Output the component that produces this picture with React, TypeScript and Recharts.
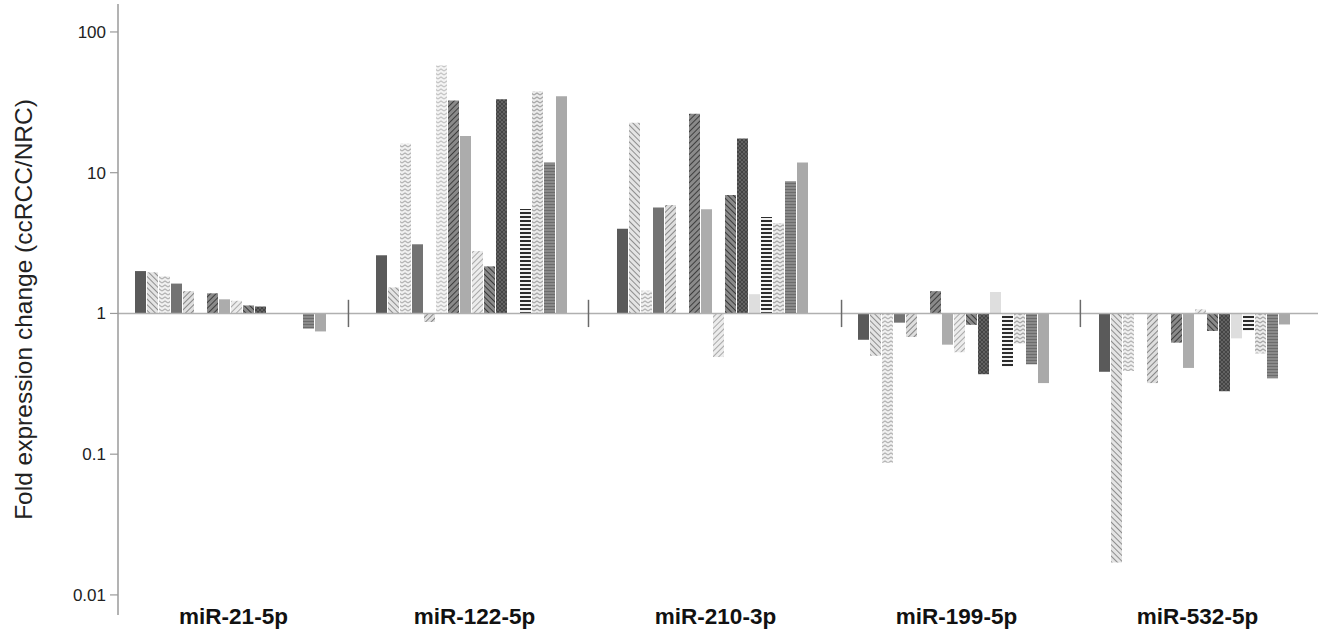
import React from 'react';
import { BarChart, Bar, XAxis, YAxis, ReferenceLine } from 'recharts';

// ---- data ----
const CATEGORIES = ['miR-21-5p', 'miR-122-5p', 'miR-210-3p', 'miR-199-5p', 'miR-532-5p'];
const MIR21 = [2.0, 1.96, 1.84, 1.63, 1.44, 1.0, 1.39, 1.26, 1.23, 1.14, 1.12, 1.0, 1.0, 1.0, 0.78, 0.745];
const MIR122 = [2.59, 1.53, 16.1, 3.1, 0.87, 57.7, 32.6, 18.2, 2.78, 2.16, 33.3, 1.0, 5.52, 37.9, 11.8, 34.9];
const MIR210 = [4.0, 22.6, 1.45, 5.65, 5.9, 1.0, 26.2, 5.5, 0.49, 6.95, 17.5, 1.37, 4.85, 4.4, 8.7, 11.8];
const MIR199 = [0.65, 0.5, 0.087, 0.86, 0.68, 1.0, 1.44, 0.6, 0.53, 0.83, 0.37, 1.42, 0.42, 0.61, 0.435, 0.32];
const MIR532 = [0.385, 0.017, 0.39, 1.0, 0.32, 1.0, 0.62, 0.41, 1.07, 0.75, 0.28, 0.665, 0.75, 0.52, 0.346, 0.835];
const SERIES_BY_CATEGORY = [MIR21, MIR122, MIR210, MIR199, MIR532];
const SAMPLES = ['S1', 'S2', 'S3', 'S4', 'S5', 'S6', 'S7', 'S8', 'S9', 'S10', 'S11', 'S12', 'S13', 'S14', 'S15', 'S16'];
const Y_TICKS = [0.01, 0.1, 1, 10, 100];
const Y_DOMAIN = [0.0072, 158];
const BASELINE = 1;
// group divider positions, in category units on a 0..5 axis
const GROUP_DIVIDERS = [0.977, 1.973, 3.023, 4.014];
const DIVIDER_AXIS_DOMAIN = [0, 5];

const rows = CATEGORIES.map((name, ci) => {
  const r: any = { name, idx: ci + 0.5 };
  SAMPLES.forEach((s, si) => {
    r[s] = SERIES_BY_CATEGORY[ci][si];
  });
  return r;
});

// ---- styles ----
const SAMPLE_FILLS = [
  '#5a5a5a',
  'url(#hatchLight)',
  'url(#zigLight)',
  '#737373',
  'url(#hatchMid)',
  'url(#zigPale)',
  'url(#hatchDark)',
  '#acacac',
  'url(#hatchPale)',
  'url(#hatchDark2)',
  'url(#crossDark)',
  '#dedede',
  'url(#hStripe)',
  'url(#zigMid)',
  'url(#hFine)',
  '#a9a9a9',
];

const FONT = '"Liberation Sans", Arial, Helvetica, sans-serif';

const CatTick = (props: any) => {
  const { x, y, payload } = props;
  return (
    <text x={x} y={y + 9} textAnchor="middle" fontFamily={FONT} fontWeight="bold" fontSize={22.5} fill="#111">
      {payload.value}
    </text>
  );
};

const YTitle = (props: any) => {
  const vb = props.viewBox || { x: 0, y: 4, width: 118, height: 611 };
  const cx = 23;
  const cy = vb.y + vb.height / 2;
  return (
    <text
      x={cx}
      y={cy}
      transform={`rotate(-90 ${cx} ${cy})`}
      textAnchor="middle"
      dominantBaseline="central"
      fontFamily={FONT}
      fontSize={24.5}
      fill="#222"
    >
      Fold expression change (ccRCC/NRC)
    </text>
  );
};

export default function App() {
  return (
    <div style={{ position: 'absolute', left: 0, top: 0, width: 1320, height: 632, background: '#fff' }}>
      <BarChart
        width={1320}
        height={632}
        data={rows}
        margin={{ top: 4, right: 2, bottom: 0, left: 0 }}
        barCategoryGap={22}
        barGap={1}
      >
        <defs>
          <pattern id="hatchLight" width="4" height="4" patternUnits="userSpaceOnUse" patternTransform="rotate(-45)">
            <rect width="4" height="4" fill="#e4e4e4" />
            <line x1="0" y1="0" x2="0" y2="4" stroke="#8e8e8e" strokeWidth="2" />
          </pattern>
          <pattern id="hatchMid" width="4" height="4" patternUnits="userSpaceOnUse" patternTransform="rotate(45)">
            <rect width="4" height="4" fill="#dedede" />
            <line x1="0" y1="0" x2="0" y2="4" stroke="#858585" strokeWidth="2" />
          </pattern>
          <pattern id="hatchPale" width="4" height="4" patternUnits="userSpaceOnUse" patternTransform="rotate(45)">
            <rect width="4" height="4" fill="#ececec" />
            <line x1="0" y1="0" x2="0" y2="4" stroke="#a8a8a8" strokeWidth="2" />
          </pattern>
          <pattern id="hatchDark" width="4" height="4" patternUnits="userSpaceOnUse" patternTransform="rotate(45)">
            <rect width="4" height="4" fill="#8a8a8a" />
            <line x1="0" y1="0" x2="0" y2="4" stroke="#3e3e3e" strokeWidth="2" />
          </pattern>
          <pattern id="hatchDark2" width="4" height="4" patternUnits="userSpaceOnUse" patternTransform="rotate(-45)">
            <rect width="4" height="4" fill="#8a8a8a" />
            <line x1="0" y1="0" x2="0" y2="4" stroke="#3a3a3a" strokeWidth="2" />
          </pattern>
          <pattern id="crossDark" width="4" height="4" patternUnits="userSpaceOnUse">
            <rect width="4" height="4" fill="#454545" />
            <path d="M0 0 L4 4 M4 0 L0 4" stroke="#6a6a6a" strokeWidth="0.8" />
          </pattern>
          <pattern id="zigLight" width="6" height="4" patternUnits="userSpaceOnUse">
            <rect width="6" height="4" fill="#f1f1f1" />
            <path d="M0 3 L3 1 L6 3" fill="none" stroke="#b3b3b3" strokeWidth="1.2" />
          </pattern>
          <pattern id="zigPale" width="6" height="4" patternUnits="userSpaceOnUse">
            <rect width="6" height="4" fill="#f4f4f4" />
            <path d="M0 3 L3 1 L6 3" fill="none" stroke="#c4c4c4" strokeWidth="1.2" />
          </pattern>
          <pattern id="zigMid" width="6" height="4" patternUnits="userSpaceOnUse">
            <rect width="6" height="4" fill="#ececec" />
            <path d="M0 3 L3 1 L6 3" fill="none" stroke="#a6a6a6" strokeWidth="1.3" />
          </pattern>
          <pattern id="hStripe" width="4" height="4" patternUnits="userSpaceOnUse">
            <rect width="4" height="4" fill="#f3f3f3" />
            <rect width="4" height="2" fill="#2c2c2c" />
          </pattern>
          <pattern id="hFine" width="4" height="3" patternUnits="userSpaceOnUse">
            <rect width="4" height="3" fill="#8a8a8a" />
            <rect width="4" height="1" fill="#6c6c6c" />
          </pattern>
        </defs>
        <XAxis
          dataKey="name"
          tickLine={false}
          axisLine={false}
          tickSize={0}
          tickMargin={0}
          height={17}
          interval={0}
          padding={{ left: -5, right: 0 }}
          tick={<CatTick />}
        />
        <XAxis
          xAxisId="sep"
          dataKey="idx"
          type="number"
          domain={DIVIDER_AXIS_DOMAIN}
          allowDataOverflow
          hide
          padding={{ left: -5, right: 0 }}
        />
        <YAxis
          type="number"
          scale="log"
          domain={Y_DOMAIN}
          allowDataOverflow
          ticks={Y_TICKS}
          interval={0}
          width={118}
          tickSize={8}
          tickMargin={4}
          axisLine={{ stroke: '#9a9a9a', strokeWidth: 1.5 }}
          tickLine={{ stroke: '#9a9a9a', strokeWidth: 1.2 }}
          tick={{ fontFamily: FONT, fontSize: 17, fill: '#222' }}
          tickFormatter={(v: number) => String(v)}
          label={<YTitle />}
        />
        <ReferenceLine y={BASELINE} stroke="#b0b0b0" strokeWidth={1.5} />
        {GROUP_DIVIDERS.map((p) => (
          <ReferenceLine
            key={p}
            xAxisId="sep"
            ifOverflow="visible"
            segment={[
              { x: p, y: 0.8 },
              { x: p, y: 1.25 },
            ]}
            stroke="#6a6a6a"
            strokeWidth={1.5}
          />
        ))}
        {SAMPLES.map((s, i) => (
          <Bar
            key={s}
            dataKey={(d: any) => [Math.min(BASELINE, d[s]), Math.max(BASELINE, d[s])]}
            fill={SAMPLE_FILLS[i]}
            isAnimationActive={false}
          />
        ))}
      </BarChart>
    </div>
  );
}
